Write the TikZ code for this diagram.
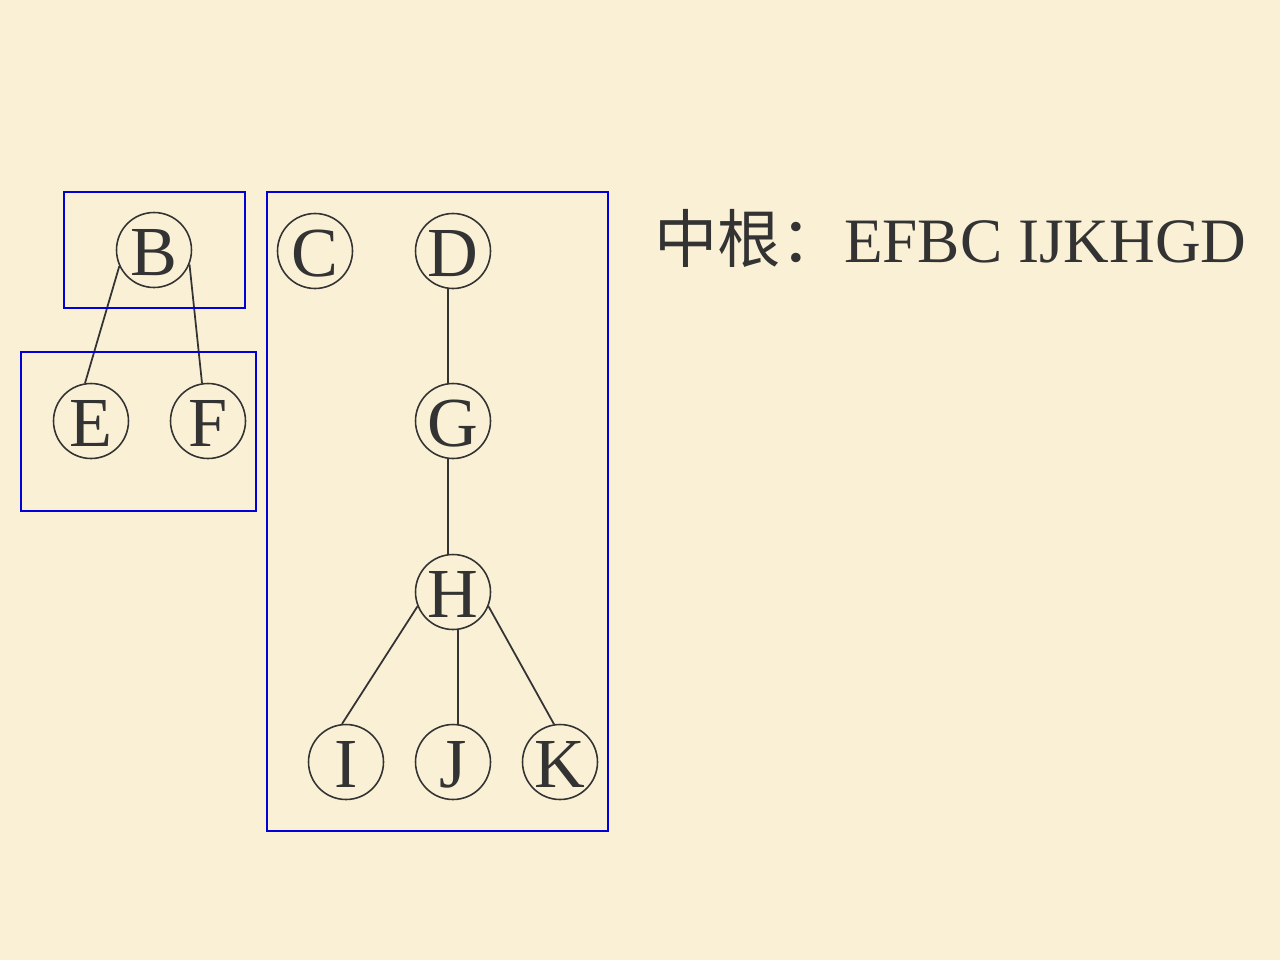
\documentclass[tikz,border=0pt]{standalone}
\usepackage{fontspec}
\setmainfont{Liberation Serif}
\newfontfamily\cjk{Noto Sans CJK SC}
\usepackage{xcolor}
\definecolor{ink}{RGB}{51,51,51}
\definecolor{paper}{RGB}{250,240,214}
\definecolor{frame}{RGB}{0,0,215}

\begin{document}
\begin{tikzpicture}[x=0.02cm,y=-0.02cm,
    knot/.style={circle,draw=ink,line width=0.9pt,minimum size=1.5cm,inner sep=0pt,text=ink,text height=29pt,text depth=0pt,font=\fontsize{40}{40}\selectfont},
    group/.style={draw=frame,line width=1.1pt}]
            \fill[paper] (0,0) rectangle (1280,960);
            \useasboundingbox (0,0) rectangle (1280,960);
            \node[knot] (B) at (154,250) {B};
            \node[knot] (C) at (315,251) {C};
            \node[knot] (D) at (453,251) {D};
            \node[knot] (E) at (91,421) {E};
            \node[knot] (F) at (208,421) {F};
            \node[knot] (G) at (453,421) {G};
            \node[knot] (H) at (453,592) {H};
            \node[knot] (I) at (346,762) {I};
            \node[knot] (J) at (453,762) {J};
            \node[knot] (K) at (560,762) {K};
            \draw[-,line width=1pt,ink] (B.205) to (E.99);
            \draw[-,line width=1pt,ink] (B.338) to (F.99);
            \draw[-,line width=1pt,ink] (D.-97) to (G.97);
            \draw[-,line width=1pt,ink] (G.-97) to (H.97);
            \draw[-,line width=1pt,ink] (H.202) to (I.96);
            \draw[-,line width=1pt,ink] (H.-82) to (J.82);
            \draw[-,line width=1pt,ink] (H.338) to (K.99);
            \draw[group] (64,192) rectangle (245,308);
            \draw[group] (21,352) rectangle (256,511);
            \draw[group] (267,192) rectangle (608,831);
            \node[anchor=base west,inner sep=0pt,text=ink,font=\fontsize{36}{36}\selectfont] (inorder) at (654,262) {{\cjk 中根：}EFBC IJKHGD};
        \end{tikzpicture}
\end{document}
